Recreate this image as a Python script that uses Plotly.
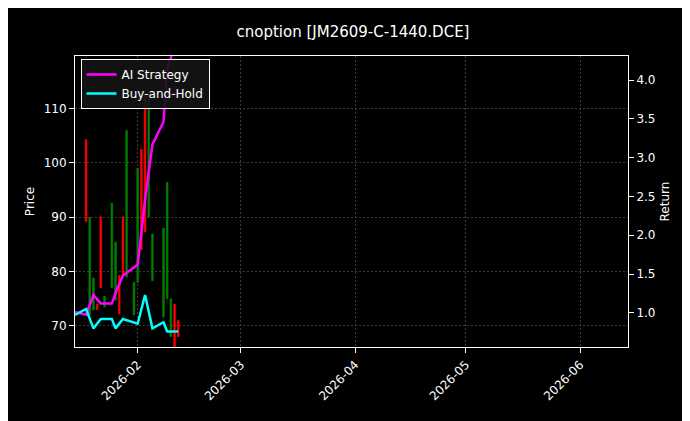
import plotly.graph_objects as go

candle_dates = ["2026-01-18", "2026-01-19", "2026-01-20", "2026-01-21", "2026-01-22",
                "2026-01-23", "2026-01-25", "2026-01-26", "2026-01-27", "2026-01-28",
                "2026-01-29", "2026-01-31", "2026-02-01", "2026-02-02", "2026-02-03",
                "2026-02-04", "2026-02-05", "2026-02-08", "2026-02-09", "2026-02-10",
                "2026-02-11", "2026-02-12"]
opens = [104.3, 72.0, 72.9, 74.0, 90.1, 73.5, 77.0, 74.7, 79.3, 90.1,
         79.0, 72.0, 78.0, 102.5, 112.9, 90.0, 78.3, 71.6, 75.0, 68.0, 74.0, 71.0]
closes = [89.2, 90.0, 78.8, 73.0, 77.0, 75.5, 92.6, 85.4, 72.2, 79.3,
          106.0, 78.0, 99.0, 84.0, 87.3, 112.0, 86.9, 88.0, 96.4, 75.0, 66.0, 68.0]

line_dates = ["2026-01-15", "2026-01-18", "2026-01-20", "2026-01-22", "2026-01-25",
              "2026-01-26", "2026-01-28", "2026-02-01", "2026-02-03", "2026-02-05",
              "2026-02-08", "2026-02-09", "2026-02-12"]
ai_strategy = [1.01, 0.975, 1.23, 1.12, 1.12, 1.26, 1.48, 1.62, 2.46, 3.17, 3.46, 4.13, 4.6]
buy_hold = [0.975, 1.05, 0.80, 0.92, 0.92, 0.80, 0.92, 0.86, 1.23, 0.80, 0.88, 0.76, 0.76]

highs = [max(o, c) for o, c in zip(opens, closes)]
lows = [min(o, c) for o, c in zip(opens, closes)]

fig = go.Figure()
fig.add_trace(go.Candlestick(
    x=candle_dates, open=opens, high=highs, low=lows, close=closes,
    increasing=dict(line=dict(color="green", width=0.5), fillcolor="green"),
    decreasing=dict(line=dict(color="red", width=0.5), fillcolor="red"),
    whiskerwidth=0, showlegend=False,
))
fig.add_trace(go.Scatter(x=line_dates, y=ai_strategy, yaxis="y2", mode="lines",
                         name="AI Strategy", line=dict(color="#ff00ff", width=2.5)))
fig.add_trace(go.Scatter(x=line_dates, y=buy_hold, yaxis="y2", mode="lines",
                         name="Buy-and-Hold", line=dict(color="#00ffff", width=2.5)))

grid = dict(showgrid=True, gridcolor="#3a3a3a", griddash="2px,2px", gridwidth=0.5,
            showline=True, linecolor="white", mirror=True, ticks="outside",
            tickcolor="white", zeroline=False)
fig.update_layout(
    width=690, height=421,
    paper_bgcolor="black", plot_bgcolor="black",
    font=dict(family="DejaVu Sans", color="white", size=12),
    title=dict(text="cnoption [JM2609-C-1440.DCE]", x=0.5, y=0.955, font=dict(size=15)),
    margin=dict(l=67, r=70, t=48, b=82),
    xaxis=dict(**grid, type="date", range=["2026-01-15", "2026-06-14"],
               rangeslider=dict(visible=False), tickangle=-45, dtick="M1",
               tickformat="%Y-%m", tick0="2026-02-01"),
    yaxis=dict(**grid, title=dict(text="Price", font=dict(size=12), standoff=6),
               range=[66.1, 119.7], dtick=10),
    yaxis2=dict(title=dict(text="Return", font=dict(size=12), standoff=6),
                overlaying="y", side="right", range=[0.56, 4.31],
                dtick=0.5, tickformat=".1f", showgrid=False, ticks="outside",
                tickcolor="white", zeroline=False),
    legend=dict(x=0.01, y=0.99, bgcolor="rgba(20,20,20,0.9)", bordercolor="white",
                borderwidth=1),
)
fig.write_html("out.html")
